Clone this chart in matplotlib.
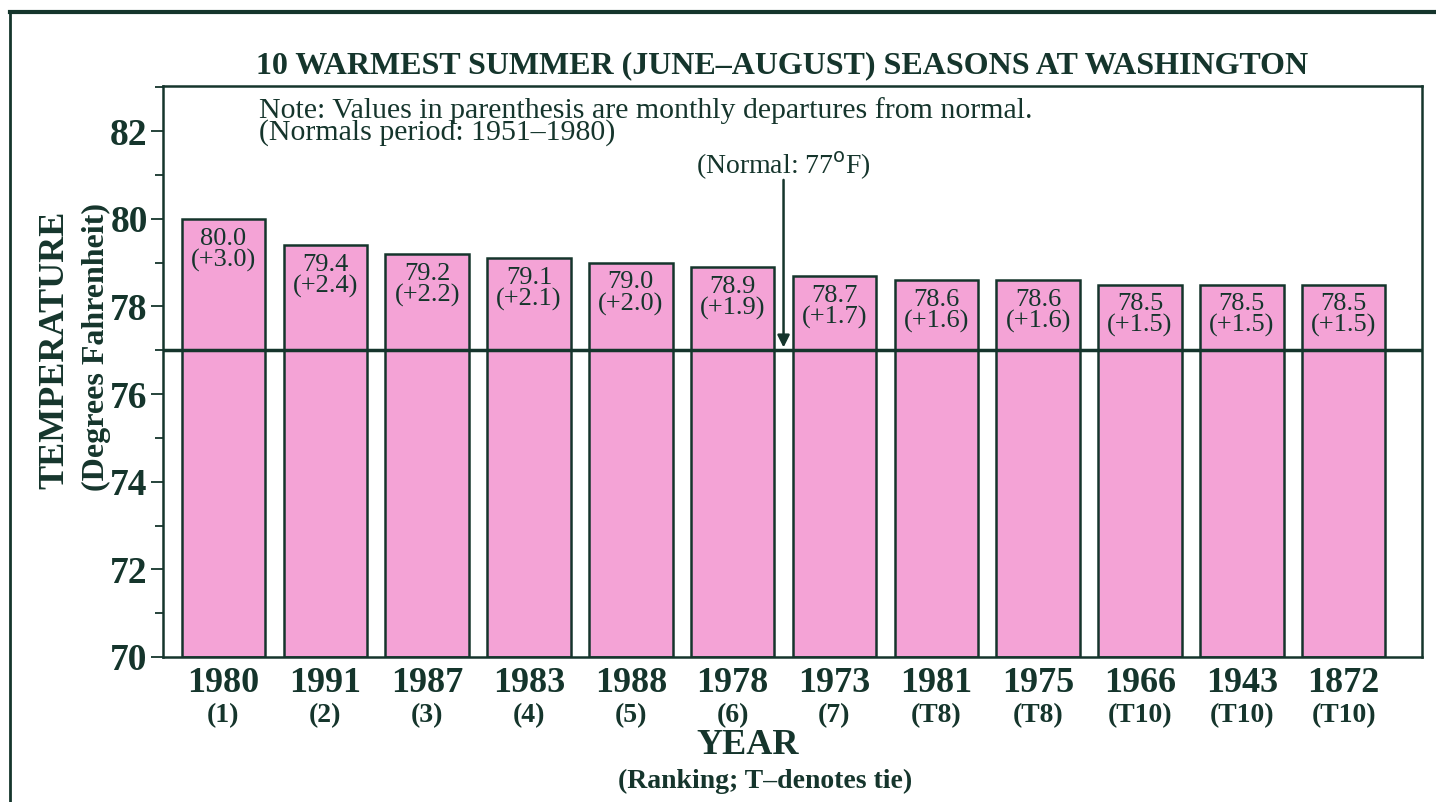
import matplotlib.pyplot as plt
from matplotlib.lines import Line2D
from matplotlib.ticker import MultipleLocator
import matplotlib.transforms as mtransforms

# ******************* data *******************
years = ["1980", "1991", "1987", "1983", "1988", "1978", "1973", "1981", "1975", "1966", "1943", "1872"]
ranks = ["(1)", "(2)", "(3)", "(4)", "(5)", "(6)", "(7)", "(T8)", "(T8)", "(T10)", "(T10)", "(T10)"]
temps = [80.0, 79.4, 79.2, 79.1, 79.0, 78.9, 78.7, 78.6, 78.6, 78.5, 78.5, 78.5]
departures = ["+3.0", "+2.4", "+2.2", "+2.1", "+2.0", "+1.9", "+1.7", "+1.6", "+1.6", "+1.5", "+1.5", "+1.5"]
normal = 77

ink = "#15352c"
pink = "#f4a3d6"
plt.rcParams['font.family'] = ['Liberation Serif', 'DejaVu Serif']

fig = plt.figure(figsize=(14.36, 8.02), dpi=100)
ax = fig.add_axes([163/1436, 1-657/802, (1422-163)/1436, (657-86)/802])

x = list(range(len(years)))
ax.bar(x, [t - 70 for t in temps], bottom=70, width=0.82, color=pink,
       edgecolor=ink, linewidth=1.8, zorder=2)

# bar labels
for i in x:
    ax.text(i, temps[i] - 0.2, "%.1f\n(%s)" % (temps[i], departures[i]),
            ha="center", va="top", fontsize=19, color=ink,
            linespacing=0.95, zorder=3)

# normal line + arrow
ax.axhline(normal, color=ink, linewidth=2.5, zorder=4)
ax.annotate("", xy=(5.5, normal), xytext=(5.5, 80.95),
            arrowprops=dict(arrowstyle="-|>", color=ink, lw=1.8, mutation_scale=18),
            zorder=5)
ax.text(5.5, 81.2, "(Normal: 77$^{\\rm o}$F)", ha="center", va="center",
        fontsize=20, color=ink)

# note
ax.text(0.076, 0.98, "Note: Values in parenthesis are monthly departures from normal.\n(Normals period: 1951\u20131980)",
        transform=ax.transAxes, ha="left", va="top", fontsize=21.5, color=ink,
        linespacing=0.75)

ax.set_xlim(-0.594, 11.77)
ax.set_ylim(70, 83.03)
ax.yaxis.set_major_locator(MultipleLocator(2))
ax.yaxis.set_minor_locator(MultipleLocator(1))
ax.tick_params(axis="y", which="major", length=9, width=1.3, color=ink,
               labelsize=27, labelcolor=ink, pad=2)
ax.tick_params(axis="y", which="minor", length=6, width=1.3, color=ink)
for lab in ax.get_yticklabels():
    lab.set_fontweight("bold")
ax.set_xticks([])
for s in ax.spines.values():
    s.set_color(ink)
    s.set_linewidth(1.8)

# x labels: year + rank
trans = mtransforms.blended_transform_factory(ax.transData, fig.transFigure)
for i in x:
    ax.text(i, 1-683/802, years[i], transform=trans, ha="center", va="center",
            fontsize=26, fontweight="bold", color=ink)
    ax.text(i, 1-716/802, ranks[i], transform=trans, ha="center", va="center",
            fontsize=20, fontweight="bold", color=ink)

fig.text(748/1436, 1-745/802, "YEAR", ha="center", va="center",
         fontsize=26, fontweight="bold", color=ink)
fig.text(765/1436, 1-781/802, "(Ranking; T\u2013denotes tie)", ha="center", va="center",
         fontsize=20, fontweight="bold", color=ink)

fig.text(55/1436, 1-350/802, "TEMPERATURE", rotation=90, ha="center", va="center",
         fontsize=26, fontweight="bold", color=ink)
fig.text(96/1436, 1-347/802, "(Degrees Fahrenheit)", rotation=90, ha="center", va="center",
         fontsize=23, fontweight="bold", color=ink)

fig.text(782/1436, 1-66/802, "10 WARMEST SUMMER (JUNE\u2013AUGUST) SEASONS AT WASHINGTON",
         ha="center", va="center", fontsize=23, fontweight="bold", color=ink)

# outer frame
fig.add_artist(Line2D([10/1436, 10/1436], [0, 1-12/802], transform=fig.transFigure,
                      color=ink, linewidth=2))
fig.add_artist(Line2D([10/1436, 1], [1-12/802, 1-12/802], transform=fig.transFigure,
                      color=ink, linewidth=3))

fig.savefig("out.png", dpi=100)
